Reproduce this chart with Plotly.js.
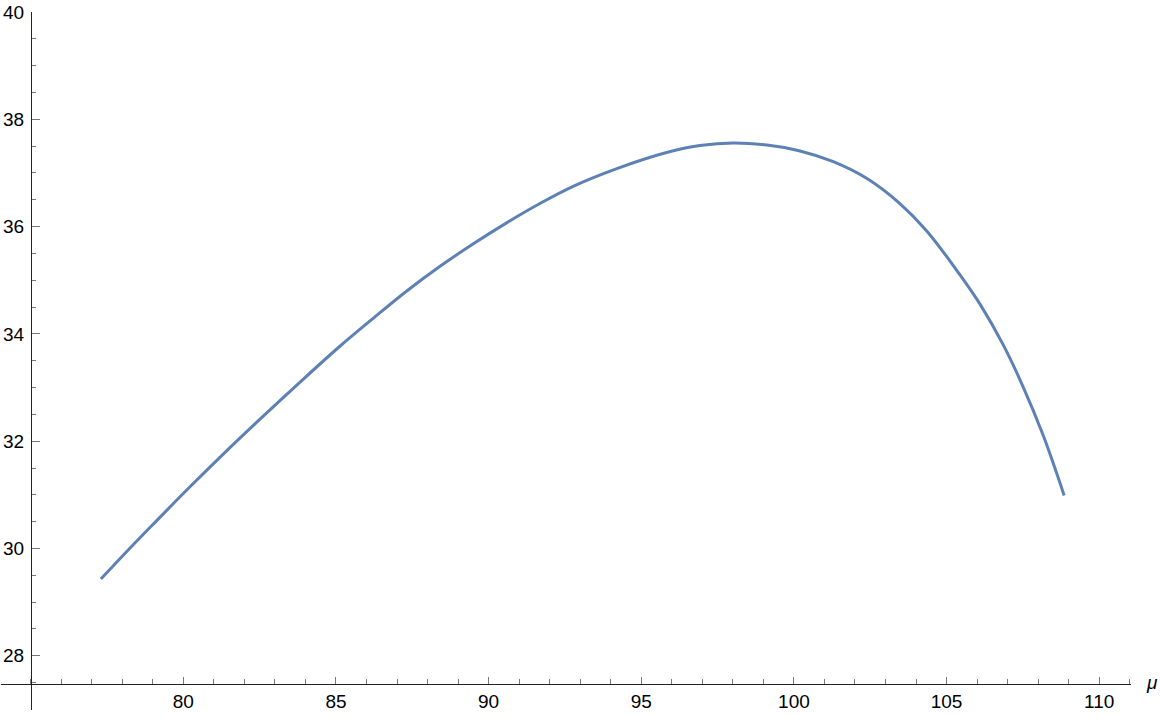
<!DOCTYPE html>
<html>
<head>
<meta charset="utf-8">
<script src="https://cdn.plot.ly/plotly-3.0.1.min.js"></script>
<style>html,body{margin:0;padding:0;background:#fff;}#chart{width:1160px;height:718px;}</style>
</head>
<body>
<div id="chart"></div>
<script>
// Data
const muValues = [77.30, 78.36, 79.13, 80.22, 81.31, 82.40, 83.88, 85.13, 86.22, 87.32, 88.41, 89.50, 90.59, 91.68, 92.77, 94.20, 95.83, 96.92, 98.01, 99.11, 100.20, 101.29, 102.38, 103.47, 104.35, 105.44, 106.10, 106.86, 107.51, 108.17, 108.85];
const yValues  = [29.43, 30.07, 30.52, 31.15, 31.76, 32.35, 33.13, 33.77, 34.29, 34.80, 35.26, 35.68, 36.07, 36.43, 36.75, 37.08, 37.38, 37.51, 37.56, 37.52, 37.41, 37.21, 36.90, 36.43, 35.92, 35.10, 34.55, 33.79, 33.01, 32.10, 30.99];
const xTickVals = [80, 85, 90, 95, 100, 105, 110];
const yTickVals = [28, 30, 32, 34, 36, 38, 40];
const xAxisLabel = "μ";

const font = {family: "Liberation Sans, Arial, sans-serif", size: 19, color: "#000"};

const trace = {
  x: muValues, y: yValues, type: "scatter", mode: "lines",
  line: {color: "rgb(94,129,181)", width: 3, shape: "spline", smoothing: 1},
  hoverinfo: "skip"
};

const layout = {
  width: 1160, height: 718,
  margin: {l: 1, r: 29, t: 12, b: 8, autoexpand: false},
  paper_bgcolor: "#fff", plot_bgcolor: "#fff",
  showlegend: false,
  font: font,
  xaxis: {
    range: [74.03, 111.04], anchor: "free", position: 0.03725,
    showgrid: false, zeroline: false, showline: true, linecolor: "#222", linewidth: 1,
    tickmode: "array", tickvals: xTickVals, ticks: "inside", ticklen: 7, tickcolor: "#777", tickwidth: 1,
    tickfont: font,
    minor: {dtick: 1, tick0: 0, ticks: "inside", ticklen: 5, tickcolor: "#777", tickwidth: 1, showgrid: false}
  },
  yaxis: {
    range: [26.99, 40.0], anchor: "free", position: 0.02655,
    showgrid: false, zeroline: false, showline: true, linecolor: "#222", linewidth: 1,
    tickmode: "array", tickvals: yTickVals, ticks: "inside", ticklen: 8, tickcolor: "#777", tickwidth: 1,
    tickfont: font, ticklabelstandoff: 3,
    minor: {dtick: 0.5, tick0: 0, ticks: "inside", ticklen: 4, tickcolor: "#777", tickwidth: 1, showgrid: false}
  },
  annotations: [{
    text: "<i>" + xAxisLabel + "</i>", xref: "paper", yref: "paper",
    x: 1, y: 0.03725, xanchor: "left", yanchor: "middle", xshift: 13, yshift: 1,
    showarrow: false, font: font
  }]
};

Plotly.newPlot("chart", [trace], layout, {displayModeBar: false, staticPlot: true});
</script>
</body>
</html>
